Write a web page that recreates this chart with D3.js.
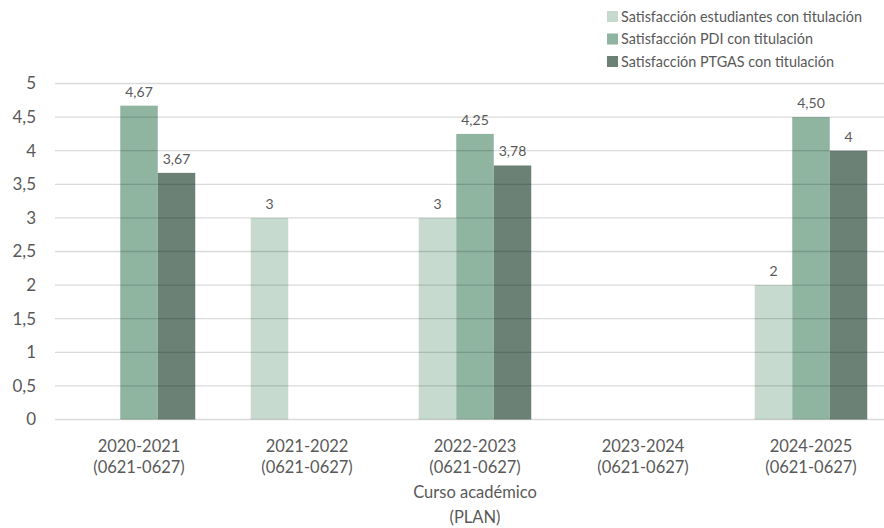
<html>
<head>
<meta charset="utf-8">
<title>Satisfacción con titulación</title>
<style>
  body { margin: 0; background: #fff; }
  text { font-family: Lato, "Open Sans", sans-serif; fill: #595959; }
</style>
</head>
<body>
<script src="https://cdn.jsdelivr.net/npm/d3@7"></script>
<script>
var width = 884, height = 528;

var cursos = ["2020-2021", "2021-2022", "2022-2023", "2023-2024", "2024-2025"];
var plan = "(0621-0627)";
var series = ["Satisfacción estudiantes con titulación", "Satisfacción PDI con titulación", "Satisfacción PTGAS con titulación"];
var estudiantes = [null, 3, 3, null, 2];
var pdi = [4.67, null, 4.25, null, 4.50];
var ptgas = [3.67, null, 3.78, null, 4];
var etiquetas = [
  [null, "3", "3", null, "2"],
  ["4,67", null, "4,25", null, "4,50"],
  ["3,67", null, "3,78", null, "4"]
];
var yTicks = [0, 0.5, 1, 1.5, 2, 2.5, 3, 3.5, 4, 4.5, 5];
var colores = ["#c6dad0", "#8fb4a0", "#6b8176"];

var valores = [estudiantes, pdi, ptgas];

var svg = d3.select("body").append("svg")
    .attr("width", width)
    .attr("height", height);

var x = d3.scaleBand().domain(cursos).range([55, 895]);
var xs = d3.scaleBand().domain([0, 1, 2]).range([0, 112.5]);
var y = d3.scaleLinear().domain([0, 5]).range([419.5, 83.5]);

// barras
var filas = [];
cursos.forEach(function (c, i) {
  valores.forEach(function (s, j) {
    if (s[i] != null) filas.push({ curso: c, serie: j, v: s[i], label: etiquetas[j][i] });
  });
});

var g = svg.append("g");
var off = (x.bandwidth() - 112.5) / 2;

g.selectAll("rect.bar")
  .data(filas)
  .enter()
  .append("rect")
  .attr("class", "bar")
  .attr("x", function (d) { return x(d.curso) + off + xs(d.serie); })
  .attr("y", function (d) { return y(d.v); })
  .attr("width", xs.bandwidth())
  .attr("height", function (d) { return y(0) - y(d.v); })
  .attr("fill", function (d) { return colores[d.serie]; });

// lineas de cuadricula encima (como en el original, se ven a traves)
svg.append("g")
  .selectAll("line")
  .data(yTicks)
  .enter()
  .append("line")
  .attr("x1", 55).attr("x2", width)
  .attr("y1", function (d) { return y(d); })
  .attr("y2", function (d) { return y(d); })
  .attr("stroke", "rgba(0,0,0,0.14)")
  .attr("stroke-width", 1.3);

// eje y
var yAxis = svg.append("g")
  .attr("transform", "translate(36,0)")
  .call(d3.axisLeft(y).tickValues(yTicks).tickSize(0).tickPadding(0)
    .tickFormat(function (d) { return String(d).replace(".", ","); }));
yAxis.select(".domain").remove();
yAxis.selectAll("text").style("font-size", "17px").attr("fill", "#595959");

// etiquetas de datos
g.selectAll("text.lbl")
  .data(filas)
  .enter()
  .append("text")
  .attr("class", "lbl")
  .attr("x", function (d) { return x(d.curso) + off + xs(d.serie) + xs.bandwidth() / 2; })
  .attr("y", function (d) { return y(d.v) - 9; })
  .attr("text-anchor", "middle")
  .style("font-size", "14px")
  .text(function (d) { return d.label; });

// eje x
var xAxis = svg.append("g")
  .attr("transform", "translate(0," + y(0) + ")")
  .call(d3.axisBottom(x).tickSize(0).tickFormat(""));
xAxis.select(".domain").remove();
xAxis.selectAll(".tick").each(function (d) {
  var t = d3.select(this).append("text")
    .attr("text-anchor", "middle")
    .style("font-size", "16.5px");
  t.append("tspan").attr("x", 0).attr("y", 32).text(d);
  t.append("tspan").attr("x", 0).attr("y", 53).text(plan);
});

svg.append("text")
  .attr("x", 475).attr("text-anchor", "middle")
  .style("font-size", "16.5px")
  .selectAll("tspan")
  .data(["Curso académico", "(PLAN)"])
  .enter()
  .append("tspan")
  .attr("x", 475)
  .attr("y", function (d, i) { return 498 + i * 25; })
  .text(function (d) { return d; });

// leyenda
var leg = svg.append("g").attr("transform", "translate(607,0)");
var li = leg.selectAll("g").data(series).enter().append("g")
  .attr("transform", function (d, i) { return "translate(0," + (16.5 + i * 22.5) + ")"; });
li.append("rect")
  .attr("x", 0).attr("y", -5.5).attr("width", 11).attr("height", 11)
  .attr("fill", function (d, i) { return colores[i]; });
li.append("text")
  .attr("x", 14).attr("y", 5)
  .style("font-size", "14.4px")
  .text(function (d) { return d; });
</script>
</body>
</html>
